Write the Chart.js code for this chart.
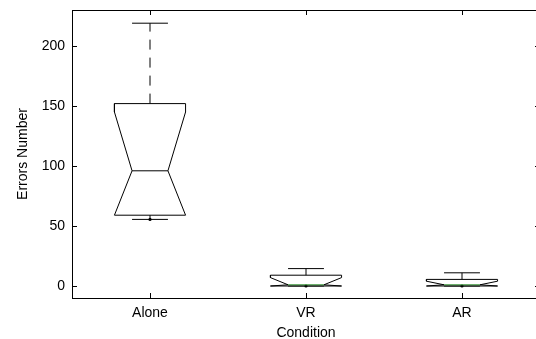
<!DOCTYPE html>
<html>
<head>
<meta charset="utf-8">
<script src="https://cdn.jsdelivr.net/npm/chart.js@4/dist/chart.umd.min.js"></script>
<style>
html, body { margin: 0; padding: 0; background: #fff; overflow: hidden; }
#wrap { position: absolute; left: 0; top: 0; width: 544px; height: 339px; }
</style>
</head>
<body>
<div id="wrap"><canvas id="boxChart"></canvas></div>
<script>
// values
const categories = ['Alone', 'VR', 'AR'];
const upperWhisker = [219, 14.5, 11];
const q3 = [152, 9, 5.5];
const notchHigh = [145, 7, 4];
const medians = [96, 1, 1];
const notchLow = [59, 0, 0];   // clamped to the box
const q1 = [59, 0, 0];
const lowerWhisker = [55.5, 0, 0];
const yTicks = [0, 50, 100, 150, 200];

const boxW = 0.228, notchW = 0.115, capW = 0.115;
const medianColors = ['#000000', '#2f8f2f', '#2f8f2f'];

function lineSet(points, color, dash) {
    return {
        data: points,
        showLine: true,
        borderColor: color,
        borderWidth: 1,
        borderDash: dash || [],
        pointRadius: 0,
        fill: false,
        tension: 0
    };
}

const datasets = [];
categories.forEach((c, i) => {
    const x = i + 1;
    datasets.push(lineSet([
        {x: x - notchW, y: medians[i]}, {x: x + notchW, y: medians[i]}
    ], medianColors[i]));
    datasets.push(lineSet([
        {x: x - boxW, y: q3[i]}, {x: x - boxW, y: notchHigh[i]},
        {x: x - notchW, y: medians[i]}, {x: x - boxW, y: notchLow[i]},
        {x: x - boxW, y: q1[i]}, {x: x + boxW, y: q1[i]},
        {x: x + boxW, y: notchLow[i]}, {x: x + notchW, y: medians[i]},
        {x: x + boxW, y: notchHigh[i]}, {x: x + boxW, y: q3[i]},
        {x: x - boxW, y: q3[i]}
    ], '#000'));
    // whiskers
    datasets.push(lineSet([{x: x, y: q3[i]}, {x: x, y: upperWhisker[i]}], '#000', [10, 8]));
    datasets.push(lineSet([{x: x, y: q1[i]}, {x: x, y: lowerWhisker[i]}], '#000', [10, 8]));
    datasets.push(lineSet([{x: x - capW, y: upperWhisker[i]}, {x: x + capW, y: upperWhisker[i]}], '#000'));
    datasets.push(lineSet([{x: x - capW, y: lowerWhisker[i]}, {x: x + capW, y: lowerWhisker[i]}], '#000'));
    datasets.push({
        data: [{x: x, y: lowerWhisker[i]}],
        pointRadius: 1.6,
        pointBackgroundColor: '#000',
        pointBorderWidth: 0
    });
});

// frame on top + inward tick marks like matlab
const frame = {
    id: 'frame',
    afterDraw(chart) {
        const {ctx, chartArea: a, scales} = chart;
        ctx.save();
        ctx.strokeStyle = '#000';
        ctx.lineWidth = 1;
        ctx.beginPath();
        ctx.moveTo(a.left, a.top + 0.5);
        ctx.lineTo(a.right, a.top + 0.5);
        scales.y.ticks.forEach(t => {
            const py = Math.round(scales.y.getPixelForValue(t.value)) + 0.5;
            ctx.moveTo(a.left, py); ctx.lineTo(a.left + 5, py);
            ctx.moveTo(a.right - 5, py); ctx.lineTo(a.right, py);
        });
        scales.x.ticks.forEach(t => {
            const px = Math.round(scales.x.getPixelForValue(t.value)) + 0.5;
            ctx.moveTo(px, a.bottom); ctx.lineTo(px, a.bottom - 5);
            ctx.moveTo(px, a.top); ctx.lineTo(px, a.top + 5);
        });
        ctx.stroke();
        ctx.restore();
    }
};

Chart.defaults.font.family = '"Liberation Sans", Arial, sans-serif';
Chart.defaults.font.size = 14;
Chart.defaults.color = '#000';

new Chart(document.getElementById('boxChart'), {
    type: 'scatter',
    data: { datasets: datasets },
    options: {
        responsive: true,
        maintainAspectRatio: false,
        animation: false,
        layout: { padding: { top: 10, right: 4, left: 0, bottom: 0 } },
        plugins: { legend: { display: false }, tooltip: { enabled: false } },
        scales: {
            x: {
                type: 'linear', min: 0.5, max: 3.5,
                afterBuildTicks: s => { s.ticks = [1, 2, 3].map(v => ({ value: v })); },
                afterFit: s => { s.height = 41; s.paddingLeft = 0; s.paddingRight = 0; },
                ticks: { callback: v => categories[v - 1], padding: 7, maxRotation: 0 },
                grid: { drawOnChartArea: false, drawTicks: false },
                border: { color: '#000', width: 1 },
                title: { display: true, text: 'Condition', padding: { top: 3, bottom: -3 } }
            },
            y: {
                min: -10, max: 230,
                afterBuildTicks: s => { s.ticks = yTicks.map(v => ({ value: v })); },
                afterFit: s => { s.width = 72; s.paddingTop = 0; s.paddingBottom = 0; },
                ticks: { padding: 7 },
                grid: { drawOnChartArea: false, drawTicks: false },
                border: { color: '#000', width: 1 },
                title: { display: true, text: 'Errors Number', padding: { top: 15, bottom: 0 } }
            }
        }
    },
    plugins: [frame]
});
</script>
</body>
</html>
